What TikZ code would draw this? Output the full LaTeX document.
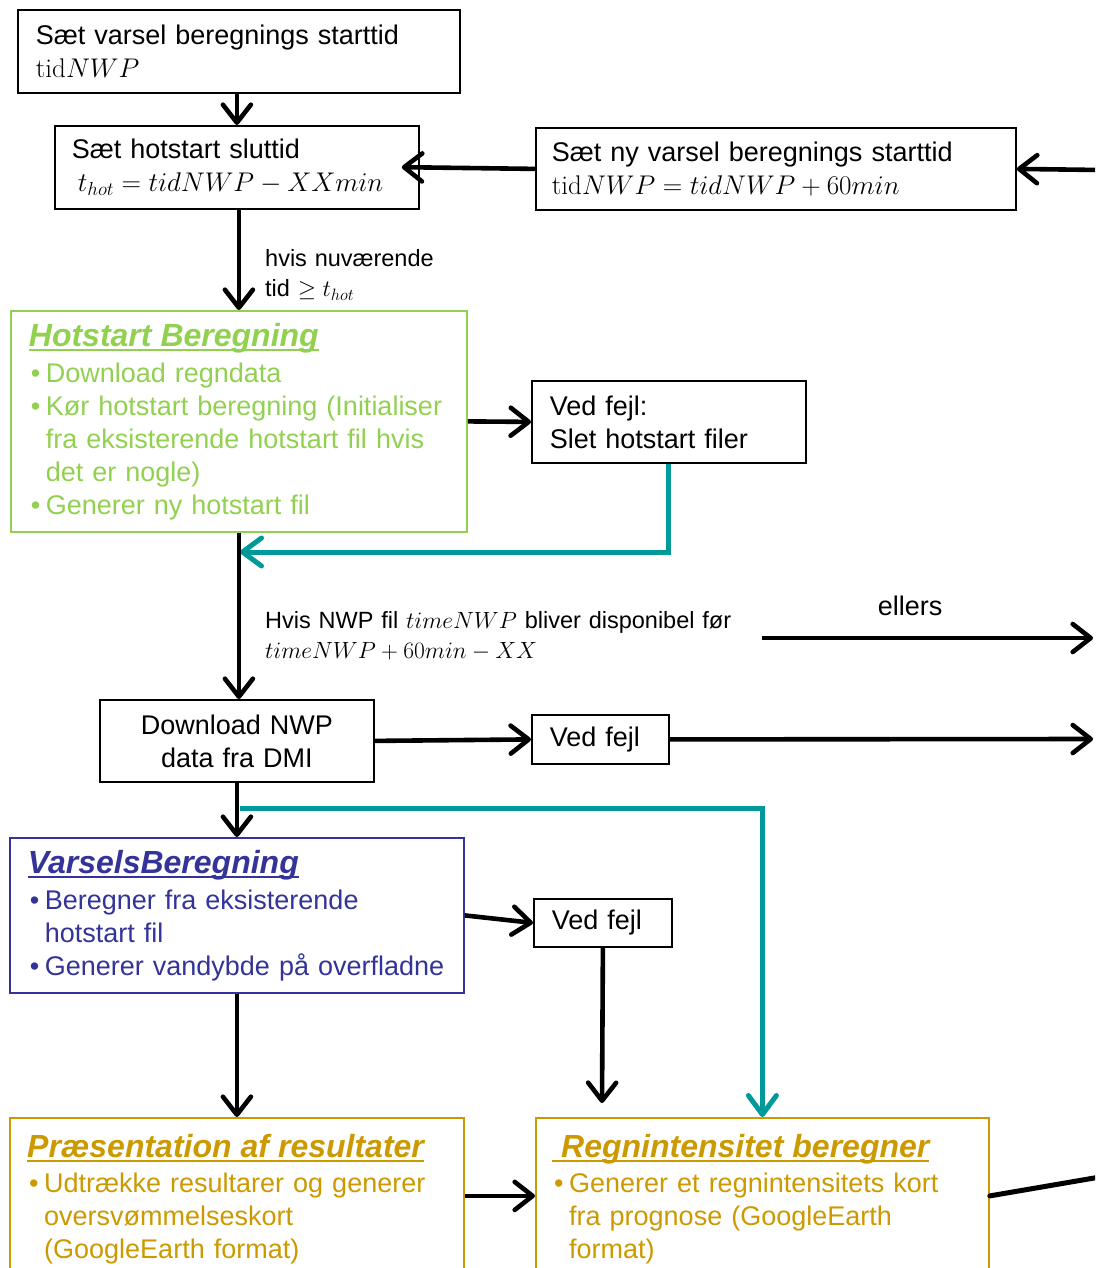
\RequirePackage{fix-cm}
\documentclass[tikz,border=0pt]{standalone}
\usepackage{fontspec}
\newfontfamily\arial{Liberation Sans}
\usetikzlibrary{arrows.meta}
\definecolor{hgreen}{HTML}{92D050}
\definecolor{vblue}{HTML}{333399}
\definecolor{pgold}{HTML}{CC9900}
\definecolor{tealc}{HTML}{009999}
\newcommand\ttlul[1]{\leavevmode\setbox0=\hbox{#1}\rlap{\rule[-5pt]{\wd0}{2.5pt}}\box0}
\newcommand\ttl[1]{{\fontsize{32}{36}\selectfont\bfseries\itshape\ttlul{#1}}}
\newcommand\bul{\hspace*{2pt}\makebox[15pt][l]{•}}
\newcommand\ind{\hspace*{17pt}}
\newcommand\bodyfont{\arial\fontsize{27}{33}\selectfont}
\newcommand\lblfont{\arial\fontsize{23.5}{30.5}\selectfont}
\begin{document}
\begin{tikzpicture}[x=1pt,y=-1pt,
  box/.style={draw=black, line width=1.8pt, rectangle, inner ysep=0pt, anchor=north west, align=left, font=\bodyfont},
  cbox/.style={box, line width=1.8pt},
  frame/.style={draw=#1, line width=1.8pt, rectangle, inner sep=0pt, anchor=north west},
  ctext/.style={text=#1, anchor=base west, inner sep=0pt, align=left, font=\bodyfont},
  lbl/.style={anchor=base west, inner sep=0pt, align=left, font=\lblfont},
  arr/.style={draw=black, line width=4.6pt, -{Straight Barb[length=18pt,width=28pt,round]}},
  tealarr/.style={draw=tealc, line width=5pt, -{Straight Barb[length=19pt,width=28pt,round]}},
  thick line/.style={draw=black, line width=5pt, line cap=round}
]
\useasboundingbox (0,0) rectangle (1095,1268);
\clip (0,0) rectangle (1095,1268);

% boxes
\node[box, text width=406, inner xsep=18, minimum height=83] (b1) at (17,9)
  {Sæt varsel beregnings starttid\\$\mathrm{tid}NWP$};
\node[box, text width=330, inner xsep=17, minimum height=83] (b2) at (54,125)
  {Sæt hotstart sluttid\\\hspace*{6pt}$t_{hot}=tidNWP-XXmin$};
\node[box, text width=448, inner xsep=16, minimum height=82] (b3) at (535,127)
  {Sæt ny varsel beregnings starttid\\$\mathrm{tid}NWP=tidNWP+60min$};

\node[cbox, draw=hgreen, text=hgreen, text width=420, inner xsep=18, minimum height=221] (hot) at (10,310)
  {\ttl{Hotstart Beregning}\\[3pt]
   \bul Download regndata\\
   \bul Kør hotstart beregning (Initialiser\\
   \ind fra eksisterende hotstart fil hvis\\
   \ind det er nogle)\\
   \bul Generer ny hotstart fil};
\node[box, text width=238, inner xsep=18, minimum height=82] (fejl1) at (531,380)
  {Ved fejl:\\Slet hotstart filer};

\node[box, align=center, text width=254, inner xsep=10, minimum height=82] (dl) at (99,699)
  {Download NWP\\data fra DMI};
\node[box, text width=101, inner xsep=18, minimum height=49] (fejl2) at (531,714) {Ved fejl};

\node[cbox, draw=vblue, text=vblue, text width=418, inner xsep=18, minimum height=155] (vars) at (9,837)
  {\ttl{VarselsBeregning}\\[3pt]
   \bul Beregner fra eksisterende\\
   \ind hotstart fil\\
   \bul Generer vandybde på overfladne};
\node[box, text width=102, inner xsep=18, minimum height=48] (fejl3) at (533,898) {Ved fejl};

\node[frame=pgold, minimum width=454, minimum height=156] (pres) at (9,1117) {};
\node[ctext=pgold, text width=430] (prestxt) at (27,1157)
  {\ttl{Præsentation af resultater}\\[2pt]
   \bul Udtrække resultarer og generer\\
   \ind oversvømmelseskort\\
   \ind (GoogleEarth format)};
\node[frame=pgold, minimum width=453, minimum height=156] (regn) at (535,1117) {};
\node[ctext=pgold, text width=430] (regntxt) at (552,1157)
  {\ttl{\ Regnintensitet beregner}\\[2pt]
   \bul Generer et regnintensitets kort\\
   \ind fra prognose (GoogleEarth\\
   \ind format)};

% labels
\node[lbl, text width=300] (l1) at (265,266) {hvis nuværende\\tid $\geq t_{hot}$};
\node[lbl, text width=480] (l2) at (265,628)
  {Hvis NWP fil $timeNWP$ bliver disponibel før\\$timeNWP+60min-XX$};
\node[font=\bodyfont, inner sep=0pt, anchor=base] (ell) at (910,615) {ellers};

% free ends
\coordinate (inR) at (1100,170);
\coordinate (elA) at (762,638);
\coordinate (elB) at (1093,638);
\coordinate (f2out) at (1093,739);
\coordinate (tj) at (240,552);
\coordinate (tstart) at (240,808);
\coordinate (f3end) at (602,1103);
\coordinate (rout) at (1100,1177);

% teal connectors
\draw[tealarr] (fejl1.south) |- (tj);
\draw[tealarr] (tstart) -| (regn.north);

% black connectors
\draw[arr] (b2.north |- b1.south) -- (b2.north);
\draw[arr] (inR) -- (b3.east);
\draw[arr, shorten >=-18pt] (b3.west) -- (b2.east);
\draw[arr] (b2.south -| hot.north) -- (hot.north);
\draw[arr] (hot.east) -- (fejl1.west);
\draw[arr] (hot.south) -- (dl.north -| hot.south);
\draw[arr] (elA) -- (elB);
\draw[arr] (dl.east) -- (fejl2.west);
\draw[arr] (fejl2.east) -- (f2out);
\draw[arr] (dl.south) -- (vars.north);
\draw[arr] (vars.east) -- (fejl3.west);
\draw[arr] (fejl3.south) -- (f3end);
\draw[arr] (vars.south) -- (pres.north);
\draw[arr] (pres.east |- regn.west) -- (regn.west);
\draw[thick line] (regn.east) -- (rout);
\end{tikzpicture}
\end{document}
